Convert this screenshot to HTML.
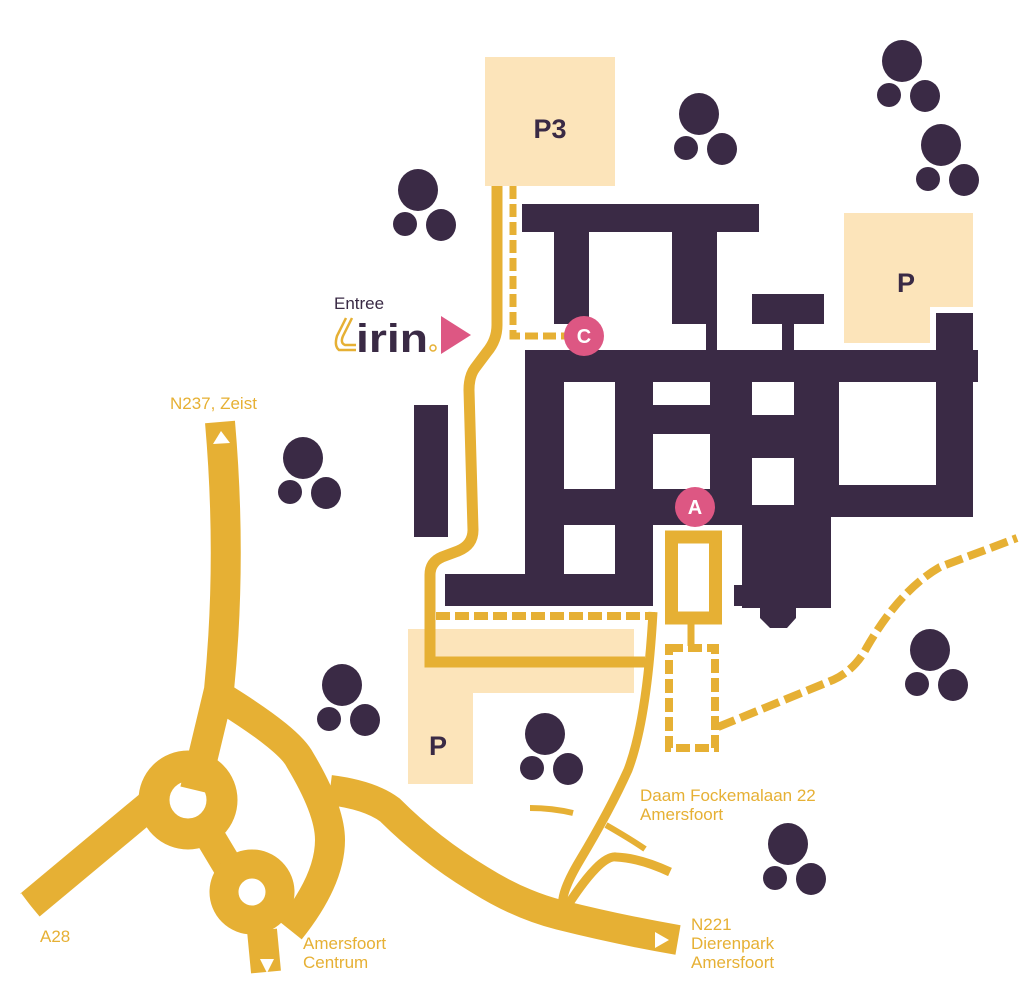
<!DOCTYPE html>
<html><head><meta charset="utf-8"><style>
html,body{margin:0;padding:0;background:#fff;width:1024px;height:985px;overflow:hidden}
svg{display:block}
text{font-family:"Liberation Sans",sans-serif}
</style></head><body>
<svg width="1024" height="985" viewBox="0 0 1024 985" xmlns="http://www.w3.org/2000/svg">
<defs>
<g id="tree" fill="#3a2a45">
<ellipse cx="0" cy="0" rx="20" ry="21"/>
<circle cx="-13" cy="34" r="12"/>
<ellipse cx="23" cy="35" rx="15" ry="16"/>
</g>
</defs>
<rect x="485" y="57" width="130" height="129" fill="#fce4ba"/>
<polygon points="844,213 973,213 973,307 930,307 930,343 844,343" fill="#fce4ba"/>
<polygon points="408,629 634,629 634,693 473,693 473,784 408,784" fill="#fce4ba"/>
<g font-weight="bold" fill="#3a2a45" font-size="27">
<text x="550" y="138" text-anchor="middle">P3</text>
<text x="906" y="292" text-anchor="middle">P</text>
<text x="438" y="755" text-anchor="middle">P</text>
</g>
<use href="#tree" x="418" y="190"/>
<use href="#tree" x="699" y="114"/>
<use href="#tree" x="902" y="61"/>
<use href="#tree" x="941" y="145"/>
<use href="#tree" x="303" y="458"/>
<use href="#tree" x="342" y="685"/>
<use href="#tree" x="545" y="734"/>
<use href="#tree" x="930" y="650"/>
<use href="#tree" x="788" y="844"/>
<g fill="#3a2a45">
<rect x="522" y="204" width="237" height="28"/>
<rect x="554" y="232" width="35" height="92"/>
<rect x="672" y="232" width="45" height="92"/>
<rect x="706" y="320" width="11" height="32"/>
<rect x="752" y="294" width="72" height="30"/>
<rect x="782" y="320" width="12" height="32"/>
<rect x="936" y="313" width="37" height="40"/>
<rect x="525" y="350" width="448" height="167"/>
<rect x="970" y="350" width="8" height="32"/>
<rect x="525" y="515" width="217" height="10"/>
<rect x="525" y="515" width="128" height="60"/>
<rect x="445" y="574" width="208" height="32"/>
<rect x="742" y="515" width="89" height="93"/>
<rect x="734" y="585" width="10" height="21"/>
<polygon points="760,606 796,606 796,618 787,628 770,628 760,618"/>
<rect x="414" y="405" width="34" height="132"/>
</g>
<g fill="#fff">
<rect x="564" y="382" width="51" height="107"/>
<rect x="653" y="382" width="57" height="23"/>
<rect x="653" y="434" width="57" height="55"/>
<rect x="752" y="382" width="42" height="33"/>
<rect x="752" y="458" width="42" height="47"/>
<rect x="839" y="382" width="97" height="103"/>
<rect x="564" y="525" width="51" height="49"/>
</g>
<g fill="none" stroke="#e6b034">
<path d="M497 186 L497 325 Q497 340 487 352 L475 368 Q469 376 469 390 L473 530 Q473 545 458 551 L442 557 Q430 562 430 575 L430 662 L645 662" stroke-width="11"/>
<path d="M513 186 L513 336 L565 336" stroke-width="7" stroke-dasharray="13 5"/>
<path d="M436 616 L655 616" stroke-width="8" stroke-dasharray="14 5"/>
<rect x="671.5" y="537" width="44" height="81" stroke-width="13"/>
<path d="M653 612 Q647 720 628 770 Q610 810 580 860 Q556 900 565 912" stroke-width="9"/>
<path d="M566 908 Q600 855 616 857 Q640 858 670 872" stroke-width="9"/>
<path d="M530 808 Q552 808 573 813" stroke-width="6"/>
<path d="M606 825 Q632 840 645 849" stroke-width="6"/>
<path d="M691 624 L691 646" stroke-width="7"/>
<rect x="669" y="648" width="46" height="100" stroke-width="8" stroke-dasharray="14 5"/>
<path d="M718 727 L833 680 Q855 670 867 647 Q900 590 940 567 L1017 538" stroke-width="8" stroke-dasharray="18 6"/>
<g stroke-width="30">
<path d="M220 422 Q232 560 219 690 L195 790"/>
<path d="M30 905 L150 805"/>
<path d="M200 820 L236 880"/>
<path d="M266 972 L262 930"/>
<path d="M226 700 Q290 740 300 760 Q330 810 330 840 Q330 880 290 930"/>
<path d="M330 790 Q370 795 390 810 Q430 850 480 880 Q520 905 560 915 Q620 930 678 940"/>
</g>
<circle cx="188" cy="800" r="34" stroke-width="31"/>
<circle cx="252" cy="892" r="28" stroke-width="29"/>
</g>
<g fill="#fff">
<polygon points="221,431 213,444 230,443"/>
<polygon points="21,893 18,913 33,909"/>
<polygon points="260,959 267,973 274,959"/>
<polygon points="655,932 655,948 669,940"/>
</g>
<circle cx="584" cy="336" r="20" fill="#dd5783"/>
<circle cx="695" cy="507" r="20" fill="#dd5783"/>
<g fill="#fff" font-weight="bold" font-size="20" text-anchor="middle">
<text x="584" y="343">C</text>
<text x="695" y="514">A</text>
</g>
<polygon points="441,316 441,354 471,335" fill="#dd5783"/>
<text x="334" y="309" font-size="17" fill="#3a2a45">Entree</text>
<path d="M346 318 L337 336 Q334 346 339 350 L356 350 M352 318 L343 336 Q340 343 345 345 L356 345" fill="none" stroke="#e6b034" stroke-width="2.5"/>
<text x="356" y="352" font-size="40" font-weight="bold" fill="#3a2a45" textLength="72" lengthAdjust="spacingAndGlyphs">irin</text>
<circle cx="433" cy="348" r="3" fill="none" stroke="#e6b034" stroke-width="1.5"/>
<g fill="#e6b034" font-size="17">
<text x="170" y="409">N237, Zeist</text>
<text x="640" y="801">Daam Fockemalaan 22</text>
<text x="640" y="820">Amersfoort</text>
<text x="40" y="942">A28</text>
<text x="303" y="949">Amersfoort</text>
<text x="303" y="968">Centrum</text>
<text x="691" y="930">N221</text>
<text x="691" y="949">Dierenpark</text>
<text x="691" y="968">Amersfoort</text>
</g>
</svg>
</body></html>
